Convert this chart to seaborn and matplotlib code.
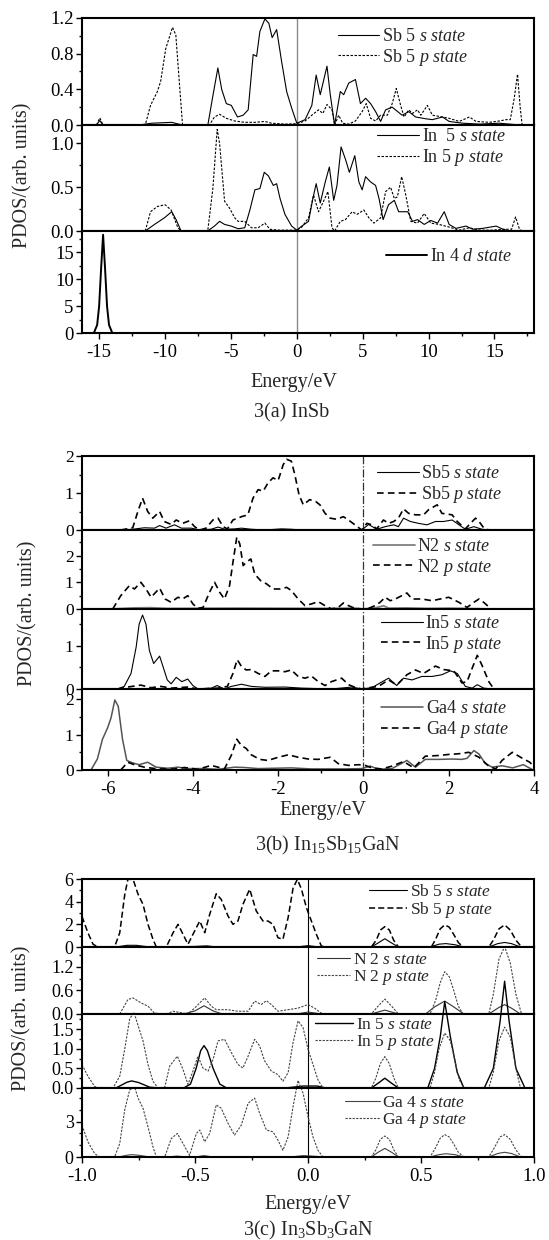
import matplotlib
matplotlib.use("Agg")
import matplotlib.pyplot as plt
import seaborn as sns
from matplotlib.ticker import MultipleLocator, FormatStrFormatter

sns.set_theme(style="ticks")
plt.rcParams["font.family"] = ["Liberation Serif", "DejaVu Serif"]
plt.rcParams["mathtext.fontset"] = "custom"
plt.rcParams["mathtext.rm"] = "Liberation Serif"
plt.rcParams["mathtext.it"] = "Liberation Serif:italic"
plt.rcParams["axes.unicode_minus"] = False

# ---------------- 3(a) InSb : (energy eV, PDOS) ----------------
a_sb5s = [(-16.2, 0), (-15.2, 0), (-14.95, 0.05), (-14.7, 0), (-12.0, 0), (-11.0, 0.02), (-9.5, 0.03), (-8.7, 0),
          (-6.75, 0), (-6.4, 0.3), (-5.99, 0.64), (-5.7, 0.4), (-5.35, 0.24), (-4.97, 0.22), (-4.5, 0.09), (-4.07, 0.11),
          (-3.69, 0.17), (-3.31, 0.79), (-3.05, 0.77), (-2.8, 1.05), (-2.42, 1.19), (-2.12, 1.14), (-1.87, 0.98),
          (-1.53, 1.07), (-1.15, 0.71), (-0.77, 0.375), (-0.39, 0.19), (0.0, 0.02), (0.63, 0.06), (1.14, 0.22),
          (1.47, 0.56), (1.78, 0.34), (2.29, 0.66), (2.54, 0.34), (2.87, 0.0), (3.3, 0.375), (3.56, 0.34), (3.94, 0.47),
          (4.45, 0.51), (4.83, 0.24), (5.22, 0.3), (5.6, 0.24), (5.98, 0.15), (6.36, 0.04), (6.74, 0.17), (7.24, 0.2),
          (7.99, 0.11), (8.5, 0.15), (9.02, 0.09), (9.78, 0.07), (10.29, 0.06), (11.06, 0.09), (11.56, 0.04),
          (12.59, 0.02), (13.86, 0.01), (15.38, 0.02), (16.15, 0.01), (17.0, 0)]
a_sb5p = [(-15.2, 0), (-14.95, 0.08), (-14.7, 0), (-11.5, 0), (-11.1, 0.22), (-10.58, 0.375), (-10.33, 0.49),
          (-9.94, 0.86), (-9.43, 1.095), (-9.18, 1.01), (-8.92, 0.49), (-8.67, 0), (-6.63, 0), (-6.25, 0.09),
          (-5.86, 0.12), (-5.35, 0.075), (-4.71, 0.045), (-3.95, 0.03), (-3.18, 0.03), (-2.42, 0.04), (-1.91, 0.02),
          (-0.9, 0.01), (0.0, 0.015), (0.63, 0.045), (1.14, 0.11), (1.65, 0.17), (1.98, 0.13), (2.29, 0.23),
          (2.67, 0.17), (2.87, 0), (3.18, 0.11), (3.48, 0.02), (3.94, 0.01), (4.45, 0.045), (4.96, 0.15), (5.27, 0.24),
          (5.6, 0.075), (5.98, 0.045), (6.36, 0.11), (6.87, 0.11), (7.24, 0.24), (7.55, 0.41), (7.88, 0.22),
          (8.14, 0.09), (8.5, 0.17), (8.78, 0.13), (9.16, 0.17), (9.41, 0.11), (9.91, 0.22), (10.29, 0.11),
          (11.06, 0.09), (11.56, 0.075), (12.33, 0.04), (13.1, 0.09), (13.6, 0.04), (14.6, 0.03), (15.38, 0.045),
          (15.89, 0.06), (16.2, 0.06), (16.5, 0.3), (16.75, 0.57), (16.95, 0.2), (17.1, 0)]
a_in5s = [(-11.5, 0), (-10.8, 0.075), (-10.05, 0.15), (-9.49, 0.22), (-9.16, 0.13), (-8.78, 0), (-6.76, 0),
          (-6.25, 0.056), (-5.86, 0.11), (-5.48, 0.075), (-4.97, 0.056), (-4.45, 0.026), (-3.95, 0.037), (-3.56, 0.24),
          (-3.18, 0.47), (-2.8, 0.485), (-2.47, 0.67), (-2.16, 0.63), (-1.78, 0.52), (-1.53, 0.54), (-1.27, 0.37),
          (-0.9, 0.19), (-0.39, 0.056), (0.0, 0.01), (0.38, 0.056), (0.89, 0.11), (1.22, 0.37), (1.47, 0.54),
          (1.78, 0.32), (2.16, 0.56), (2.47, 0.73), (2.8, 0.35), (3.05, 0.52), (3.36, 0.96), (3.69, 0.82), (3.99, 0.67),
          (4.4, 0.86), (4.71, 0.56), (4.96, 0.47), (5.22, 0.62), (5.6, 0.56), (5.98, 0.52), (6.24, 0.37), (6.55, 0.13),
          (6.96, 0.3), (7.4, 0.35), (7.73, 0.22), (8.42, 0.22), (8.78, 0.11), (9.16, 0.13), (9.67, 0.075),
          (10.17, 0.12), (10.68, 0.09), (11.19, 0.22), (11.56, 0.075), (12.07, 0.03), (12.84, 0.056), (13.35, 0.02),
          (14.1, 0.03), (15.13, 0.056), (15.64, 0.02), (16.15, 0.0)]
a_in5p = [(-11.5, 0), (-11.1, 0.22), (-10.58, 0.28), (-10.0, 0.3), (-9.54, 0.24), (-9.03, 0.04), (-8.78, 0),
          (-6.76, 0), (-6.37, 0.485), (-6.04, 1.16), (-5.86, 1.0), (-5.48, 0.34), (-5.1, 0.26), (-4.71, 0.15),
          (-4.45, 0.11), (-3.95, 0.11), (-3.44, 0.037), (-2.93, 0.037), (-2.42, 0.09), (-2.04, 0.02), (-1.4, 0.01),
          (0.0, 0.01), (0.38, 0.045), (0.89, 0.15), (1.27, 0.41), (1.65, 0.22), (2.03, 0.34), (2.36, 0.45),
          (2.67, 0.037), (2.87, 0), (3.3, 0.11), (3.69, 0.13), (4.2, 0.22), (4.58, 0.19), (5.09, 0.24), (5.47, 0.15),
          (5.85, 0.09), (6.36, 0.15), (6.74, 0.45), (7.12, 0.5), (7.4, 0.37), (7.63, 0.39), (7.96, 0.62), (8.27, 0.41),
          (8.65, 0.11), (9.16, 0.09), (9.67, 0.2), (10.17, 0.09), (10.8, 0.075), (11.56, 0.045), (12.33, 0.01),
          (13.1, 0.037), (13.86, 0.01), (14.88, 0.01), (15.64, 0.02), (16.3, 0.02), (16.6, 0.16), (16.9, 0.02),
          (17.1, 0)]
a_in4d = [(-15.4, 0), (-15.15, 1.5), (-15.0, 5.0), (-14.85, 12.0), (-14.7, 18.3), (-14.55, 12.0), (-14.4, 5.0),
          (-14.25, 1.5), (-14.0, 0)]

# ---------------- 3(b) In15Sb15GaN ----------------
b_sb5s = [(-5.69, 0), (-5.41, 0.02), (-5.14, 0.06), (-4.9, 0.05), (-4.78, 0.12), (-4.63, 0.05), (-4.43, 0.14),
          (-4.27, 0.05), (-4.04, 0.05), (-3.84, 0), (-3.57, 0.02), (-3.41, 0.08), (-3.25, 0.02), (-3.02, 0.03),
          (-2.86, 0.05), (-2.63, 0.02), (-2.31, 0), (-1.92, 0.03), (-1.69, 0.02), (-1.45, 0), (-0.04, 0), (0.12, 0.15),
          (0.31, 0.02), (0.51, 0.09), (0.71, 0.14), (0.82, 0.09), (0.94, 0.32), (1.1, 0.23), (1.29, 0.18), (1.49, 0.14),
          (1.69, 0.23), (1.88, 0.23), (2.08, 0.27), (2.24, 0.14), (2.39, 0.02), (2.59, 0.09), (2.78, 0.02), (2.94, 0)]
b_sb5p = [(-5.69, 0), (-5.41, 0.06), (-5.29, 0.5), (-5.18, 0.86), (-5.06, 0.5), (-4.94, 0.32), (-4.78, 0.5),
          (-4.67, 0.23), (-4.51, 0.15), (-4.39, 0.27), (-4.24, 0.18), (-4.08, 0.25), (-3.96, 0.09), (-3.84, 0),
          (-3.69, 0.05), (-3.53, 0.27), (-3.41, 0.32), (-3.29, 0.09), (-3.19, 0.03), (-3.06, 0.27), (-2.86, 0.36),
          (-2.71, 0.41), (-2.59, 0.86), (-2.47, 1.09), (-2.35, 1.05), (-2.24, 1.27), (-2.12, 1.41), (-2.0, 1.34),
          (-1.88, 1.77), (-1.8, 1.91), (-1.69, 1.86), (-1.61, 1.5), (-1.51, 0.95), (-1.41, 0.68), (-1.26, 0.82),
          (-1.12, 0.77), (-1.02, 0.68), (-0.9, 0.45), (-0.78, 0.32), (-0.63, 0.29), (-0.47, 0.36), (-0.35, 0.27),
          (-0.2, 0.14), (-0.04, 0), (0.08, 0.18), (0.2, 0.14), (0.31, 0.03), (0.47, 0.27), (0.59, 0.18), (0.71, 0.23),
          (0.82, 0.32), (0.94, 0.57), (1.06, 0.45), (1.22, 0.41), (1.41, 0.41), (1.53, 0.55), (1.73, 0.68),
          (1.84, 0.45), (1.96, 0.43), (2.08, 0.41), (2.2, 0.23), (2.39, 0.03), (2.51, 0.18), (2.63, 0.32),
          (2.71, 0.23), (2.82, 0.06), (2.94, 0)]
b_n2s = [(-5.9, 0), (-5.4, 0.04), (-5.0, 0.05), (-4.6, 0.02), (-3.0, 0.03), (-1.0, 0.02), (-0.2, 0.03), (0.0, 0.0),
         (0.3, 0.05), (0.47, 0.12), (0.6, 0.03), (1.0, 0.04), (1.5, 0.02), (2.0, 0.03), (3.0, 0.0)]
b_n2p = [(-5.88, 0), (-5.69, 0.5), (-5.49, 0.875), (-5.37, 0.75), (-5.22, 1.0), (-5.1, 0.75), (-4.98, 0.44),
         (-4.78, 0.78), (-4.65, 0.375), (-4.51, 0.25), (-4.35, 0.44), (-4.24, 0.375), (-4.12, 0.5), (-4.0, 0.19),
         (-3.88, 0.025), (-3.76, 0.06), (-3.61, 0.625), (-3.49, 1.0), (-3.37, 0.625), (-3.26, 0.375), (-3.14, 0.875),
         (-3.06, 1.75), (-2.97, 2.69), (-2.9, 2.44), (-2.82, 1.625), (-2.75, 1.75), (-2.64, 1.875), (-2.55, 1.31),
         (-2.41, 1.06), (-2.27, 0.94), (-2.12, 0.75), (-1.96, 0.75), (-1.8, 0.81), (-1.69, 0.69), (-1.53, 0.375),
         (-1.37, 0.125), (-1.22, 0.19), (-1.06, 0.275), (-0.9, 0.125), (-0.75, 0.0), (-0.59, 0.06), (-0.47, 0.225),
         (-0.35, 0.125), (-0.2, 0.025), (-0.04, 0.0), (0.12, 0.025), (0.27, 0.125), (0.39, 0.25), (0.51, 0.44),
         (0.63, 0.31), (0.75, 0.375), (1.02, 0.6), (1.14, 0.375), (1.37, 0.375), (1.61, 0.31), (1.8, 0.375),
         (2.0, 0.44), (2.24, 0.25), (2.43, 0.06), (2.59, 0.25), (2.71, 0.375), (2.82, 0.25), (2.98, 0.025)]
b_in5s = [(-5.77, 0), (-5.61, 0.06), (-5.45, 0.36), (-5.33, 0.97), (-5.26, 1.5), (-5.18, 1.71), (-5.1, 1.5),
          (-5.02, 0.89), (-4.92, 0.59), (-4.78, 0.76), (-4.71, 0.55), (-4.6, 0.21), (-4.51, 0.12), (-4.39, 0.27),
          (-4.26, 0.17), (-4.12, 0.23), (-4.0, 0.08), (-3.88, 0), (-3.57, 0.02), (-3.43, 0.08), (-3.26, 0),
          (-3.1, 0.06), (-2.86, 0.11), (-2.63, 0.06), (-2.31, 0.04), (-1.84, 0.045), (-1.45, 0.02), (-0.75, 0),
          (-0.27, 0.045), (-0.04, 0), (0.2, 0.03), (0.39, 0.14), (0.59, 0.25), (0.78, 0.08), (0.94, 0.25),
          (1.14, 0.21), (1.37, 0.29), (1.61, 0.29), (1.84, 0.33), (2.04, 0.42), (2.2, 0.36), (2.39, 0.06),
          (2.55, 0.02), (2.67, 0.1), (2.82, 0.02), (3.02, 0)]
b_in5p = [(-5.77, 0), (-5.53, 0.045), (-5.22, 0.09), (-4.98, 0.03), (-4.75, 0.06), (-4.51, 0.02), (-4.12, 0.045),
          (-3.88, 0), (-3.41, 0.02), (-3.19, 0.06), (-3.06, 0.36), (-2.96, 0.68), (-2.86, 0.52), (-2.75, 0.44),
          (-2.63, 0.45), (-2.47, 0.36), (-2.31, 0.29), (-2.16, 0.42), (-2.0, 0.42), (-1.84, 0.4), (-1.69, 0.44),
          (-1.53, 0.29), (-1.37, 0.25), (-1.22, 0.3), (-1.06, 0.17), (-0.9, 0.08), (-0.75, 0.17), (-0.51, 0.25),
          (-0.35, 0.1), (-0.2, 0.04), (-0.04, 0), (0.12, 0.03), (0.35, 0.06), (0.59, 0.21), (0.78, 0.09),
          (1.02, 0.33), (1.22, 0.44), (1.41, 0.36), (1.69, 0.53), (1.88, 0.45), (2.12, 0.42), (2.31, 0.14),
          (2.43, 0.17), (2.55, 0.48), (2.67, 0.78), (2.78, 0.55), (2.94, 0.17), (3.06, 0)]
b_ga4s = [(-6.39, 0), (-6.24, 0.31), (-6.12, 0.87), (-6.0, 1.19), (-5.92, 1.47), (-5.83, 1.98), (-5.75, 1.8),
          (-5.65, 0.87), (-5.55, 0.27), (-5.41, 0.2), (-5.26, 0.15), (-5.06, 0.22), (-4.86, 0.08), (-4.59, 0.05),
          (-4.35, 0.08), (-4.12, 0.04), (-3.73, 0.04), (-3.41, 0.02), (-3.02, 0.08), (-2.78, 0.07), (-2.47, 0.04),
          (-1.69, 0.06), (-1.22, 0.03), (-0.43, 0.03), (-0.04, 0.04), (0.16, 0.11), (0.35, 0.02), (0.67, 0.04),
          (1.02, 0.27), (1.22, 0.08), (1.45, 0.3), (1.77, 0.3), (2.08, 0.31), (2.31, 0.3), (2.43, 0.33), (2.59, 0.55),
          (2.71, 0.45), (2.86, 0.18), (3.02, 0.08), (3.25, 0.12), (3.5, 0.06), (3.75, 0.15), (3.95, 0.02)]
b_ga4p = [(-5.69, 0), (-5.53, 0.22), (-5.37, 0.15), (-5.14, 0.08), (-4.82, 0.03), (-4.43, 0.03), (-4.2, 0.07),
          (-3.88, 0.02), (-3.57, 0.13), (-3.41, 0.08), (-3.26, 0.03), (-3.1, 0.41), (-2.97, 0.87), (-2.86, 0.69),
          (-2.75, 0.61), (-2.63, 0.43), (-2.43, 0.3), (-2.24, 0.27), (-2.0, 0.36), (-1.76, 0.43), (-1.53, 0.36),
          (-1.29, 0.31), (-1.06, 0.3), (-0.78, 0.36), (-0.59, 0.18), (-0.35, 0.13), (-0.12, 0.15), (0.04, 0.13),
          (0.2, 0.06), (0.43, 0.03), (0.67, 0.11), (0.94, 0.24), (1.18, 0.06), (1.45, 0.39), (1.77, 0.41),
          (2.0, 0.44), (2.24, 0.46), (2.47, 0.5), (2.71, 0.36), (2.94, 0.11), (3.1, 0.03), (3.25, 0.27), (3.49, 0.5),
          (3.7, 0.35), (3.9, 0.22), (4.0, 0.1)]

# ---------------- 3(c) In3Sb3GaN ----------------
c_sb5s = [(-0.85, 0), (-0.8, 0.15), (-0.76, 0.15), (-0.7, 0), (-0.5, 0.05), (-0.45, 0.1), (-0.4, 0.0), (-0.05, 0),
          (0.0, 0.12), (0.05, 0), (0.28, 0), (0.31, 0.35), (0.34, 0.73), (0.37, 0.35), (0.4, 0), (0.54, 0),
          (0.58, 0.25), (0.61, 0.3), (0.65, 0.2), (0.69, 0), (0.8, 0), (0.84, 0.3), (0.87, 0.4), (0.9, 0.3), (0.94, 0)]
c_sb5p = [(-1.0, 2.7), (-0.974, 1.26), (-0.951, 0.24), (-0.929, 0), (-0.856, 0), (-0.833, 1.26), (-0.811, 4.6),
          (-0.797, 5.97), (-0.774, 5.97), (-0.752, 4.65), (-0.73, 3.76), (-0.708, 2.0), (-0.686, 0.68), (-0.671, 0),
          (-0.627, 0), (-0.597, 1.26), (-0.575, 2.0), (-0.553, 1.12), (-0.531, 0.24), (-0.509, 1.12), (-0.479, 2.29),
          (-0.457, 1.26), (-0.435, 2.88), (-0.406, 4.7), (-0.384, 4.2), (-0.354, 2.74), (-0.332, 2.0), (-0.31, 2.29),
          (-0.288, 3.76), (-0.258, 5.1), (-0.229, 3.18), (-0.199, 2.29), (-0.177, 2.29), (-0.155, 2.0),
          (-0.133, 0.82), (-0.111, 0.68), (-0.088, 2.59), (-0.066, 5.2), (-0.047, 5.97), (-0.029, 5.1),
          (-0.007, 3.47), (0.015, 2.29), (0.037, 1.12), (0.059, 0.09), (0.074, 0), (0.28, 0), (0.302, 0.6),
          (0.321, 1.5), (0.34, 1.8), (0.36, 1.5), (0.379, 0.6), (0.4, 0), (0.546, 0), (0.565, 0.7), (0.585, 1.6),
          (0.605, 1.95), (0.625, 1.75), (0.645, 1.1), (0.665, 0.4), (0.686, 0), (0.8, 0), (0.82, 0.6), (0.845, 1.6),
          (0.87, 1.95), (0.895, 1.5), (0.92, 0.6), (0.945, 0)]
c_n2s = [(-0.55, 0), (-0.5, 0.08), (-0.46, 0.21), (-0.42, 0.08), (-0.38, 0), (-0.05, 0), (0.0, 0.05), (0.06, 0),
         (0.28, 0), (0.31, 0.05), (0.34, 0.1), (0.37, 0.05), (0.4, 0), (0.52, 0), (0.56, 0.18), (0.605, 0.33),
         (0.645, 0.18), (0.69, 0), (0.8, 0), (0.84, 0.15), (0.87, 0.24), (0.9, 0.15), (0.94, 0)]
c_n2p = [(-0.833, 0), (-0.797, 0.37), (-0.774, 0.41), (-0.738, 0.28), (-0.708, 0.2), (-0.679, 0.02), (-0.627, 0),
         (-0.597, 0.07), (-0.568, 0.04), (-0.531, 0), (-0.502, 0.15), (-0.457, 0.41), (-0.428, 0.2), (-0.406, 0.11),
         (-0.354, 0.11), (-0.31, 0.07), (-0.265, 0.07), (-0.236, 0.33), (-0.207, 0.24), (-0.184, 0.34),
         (-0.162, 0.24), (-0.133, 0.07), (-0.088, 0.11), (-0.044, 0.15), (0.0, 0.24), (0.029, 0.15), (0.059, 0.02),
         (0.074, 0), (0.28, 0), (0.31, 0.2), (0.34, 0.38), (0.37, 0.2), (0.4, 0), (0.54, 0), (0.565, 0.35),
         (0.585, 0.8), (0.605, 1.08), (0.625, 0.95), (0.645, 0.6), (0.665, 0.2), (0.686, 0), (0.8, 0), (0.82, 0.5),
         (0.845, 1.4), (0.87, 1.72), (0.895, 1.3), (0.92, 0.5), (0.945, 0)]
c_in5s = [(-0.85, 0), (-0.8, 0.15), (-0.78, 0.18), (-0.75, 0.14), (-0.7, 0.02), (-0.66, 0), (-0.55, 0),
          (-0.52, 0.1), (-0.495, 0.5), (-0.475, 0.95), (-0.46, 1.08), (-0.445, 0.95), (-0.42, 0.5), (-0.39, 0.1),
          (-0.36, 0), (-0.1, 0), (-0.02, 0.05), (0.04, 0.05), (0.08, 0), (0.28, 0), (0.31, 0.12), (0.34, 0.25),
          (0.37, 0.12), (0.4, 0), (0.53, 0), (0.56, 0.5), (0.585, 1.3), (0.605, 2.2), (0.63, 1.3), (0.66, 0.4),
          (0.69, 0), (0.78, 0), (0.82, 0.5), (0.85, 1.7), (0.87, 2.72), (0.89, 1.7), (0.92, 0.5), (0.96, 0)]
c_in5p = [(-1.0, 0.6), (-0.974, 0.3), (-0.944, 0.04), (-0.929, 0), (-0.863, 0), (-0.833, 0.3), (-0.811, 0.99),
          (-0.789, 1.76), (-0.77, 1.93), (-0.752, 1.59), (-0.73, 1.2), (-0.708, 0.6), (-0.686, 0.17), (-0.664, 0),
          (-0.634, 0.02), (-0.612, 0.56), (-0.578, 0.81), (-0.553, 0.47), (-0.531, 0.09), (-0.509, 0.43),
          (-0.487, 0.81), (-0.465, 0.51), (-0.442, 0.43), (-0.42, 0.73), (-0.398, 1.2), (-0.369, 1.24),
          (-0.339, 0.9), (-0.31, 0.6), (-0.288, 0.51), (-0.265, 0.81), (-0.236, 1.24), (-0.214, 1.07),
          (-0.192, 0.69), (-0.162, 0.43), (-0.133, 0.34), (-0.111, 0.17), (-0.088, 0.39), (-0.066, 1.16),
          (-0.044, 1.71), (-0.022, 1.54), (0.0, 0.99), (0.022, 0.6), (0.044, 0.21), (0.066, 0), (0.28, 0),
          (0.3, 0.25), (0.32, 0.62), (0.34, 0.8), (0.36, 0.62), (0.38, 0.25), (0.4, 0), (0.54, 0), (0.56, 0.4),
          (0.58, 1.0), (0.605, 1.4), (0.63, 1.2), (0.65, 0.7), (0.67, 0.2), (0.69, 0), (0.8, 0), (0.82, 0.4),
          (0.845, 1.2), (0.87, 1.55), (0.895, 1.3), (0.92, 0.5), (0.94, 0)]
c_ga4s = [(-0.84, 0), (-0.8, 0.15), (-0.78, 0.2), (-0.75, 0.15), (-0.7, 0), (-0.62, 0), (-0.58, 0.08), (-0.54, 0),
          (-0.5, 0), (-0.46, 0.12), (-0.42, 0), (-0.08, 0), (-0.02, 0.12), (0.04, 0.05), (0.07, 0), (0.28, 0),
          (0.31, 0.4), (0.34, 0.73), (0.37, 0.4), (0.4, 0), (0.54, 0), (0.58, 0.2), (0.61, 0.28), (0.65, 0.2),
          (0.69, 0), (0.8, 0), (0.84, 0.3), (0.87, 0.4), (0.9, 0.3), (0.94, 0)]
c_ga4p = [(-1.0, 2.7), (-0.974, 1.29), (-0.944, 0.29), (-0.922, 0), (-0.856, 0), (-0.833, 1.14), (-0.811, 4.0),
          (-0.789, 5.7), (-0.767, 5.94), (-0.752, 5.0), (-0.73, 4.14), (-0.708, 2.57), (-0.686, 0.86), (-0.671, 0),
          (-0.634, 0), (-0.605, 1.57), (-0.578, 2.0), (-0.553, 1.14), (-0.524, 0.14), (-0.494, 2.0), (-0.479, 2.29),
          (-0.457, 1.29), (-0.435, 2.0), (-0.406, 4.43), (-0.384, 4.14), (-0.354, 2.86), (-0.325, 1.86),
          (-0.295, 2.71), (-0.265, 4.57), (-0.236, 5.0), (-0.214, 3.71), (-0.184, 2.29), (-0.155, 2.14),
          (-0.133, 1.43), (-0.111, 0.57), (-0.088, 1.71), (-0.066, 4.29), (-0.044, 6.5), (-0.022, 5.43),
          (0.0, 3.43), (0.022, 1.71), (0.044, 0.57), (0.066, 0), (0.28, 0), (0.3, 0.6), (0.32, 1.5), (0.34, 1.78),
          (0.36, 1.5), (0.38, 0.6), (0.4, 0), (0.54, 0), (0.565, 0.8), (0.585, 1.6), (0.605, 1.9), (0.625, 1.7),
          (0.645, 1.1), (0.665, 0.4), (0.69, 0), (0.8, 0), (0.825, 0.8), (0.85, 1.7), (0.87, 1.9), (0.895, 1.5),
          (0.92, 0.6), (0.945, 0)]

W, H = 549, 1240
LEFT, RIGHT = 82, 534

fig = plt.figure(figsize=(W / 100, H / 100), dpi=100)


def make_ax(ytop, ybot):
    return fig.add_axes([LEFT / W, 1 - ybot / H, (RIGHT - LEFT) / W, (ybot - ytop) / H])


def style_ax(ax, xlim, ylim, ymaj, ymin, yfmt, xmaj, xmin, xfmt, show_x, ylab=13.5):
    ax.set_xlim(xlim)
    ax.set_ylim(ylim)
    ax.xaxis.set_major_locator(MultipleLocator(xmaj))
    ax.xaxis.set_minor_locator(MultipleLocator(xmin))
    ax.yaxis.set_major_locator(MultipleLocator(ymaj))
    ax.yaxis.set_minor_locator(MultipleLocator(ymin))
    ax.yaxis.set_major_formatter(FormatStrFormatter(yfmt))
    ax.xaxis.set_major_formatter(FormatStrFormatter(xfmt))
    for s in ax.spines.values():
        s.set_linewidth(1.5)
        s.set_color("black")
    ax.tick_params(which="both", direction="out", top=False, right=False, colors="black", width=1.0)
    ax.tick_params(which="major", length=4, pad=2)
    ax.tick_params(which="minor", length=2.5)
    ax.tick_params(axis="y", labelsize=ylab)
    ax.tick_params(axis="x", labelsize=13.5, pad=4)
    if not show_x:
        ax.tick_params(axis="x", which="both", bottom=False, labelbottom=False)
    ax.set_xlabel("")
    ax.set_ylabel("")


def curve(ax, pts, label, color="black", lw=0.8, ls="-", clip=True):
    e = [p[0] for p in pts]
    v = [p[1] for p in pts]
    sns.lineplot(x=e, y=v, ax=ax, color=color, lw=lw, linestyle=ls, label=label,
                 estimator=None, sort=False, clip_on=clip)


def leg(ax, xa, ya, fs=13, hl=2.3, ls=0.1):
    ax.legend(loc="upper right", bbox_to_anchor=(xa, ya), frameon=False, fontsize=fs,
              handlelength=hl, handletextpad=0.15, labelspacing=ls, borderaxespad=0, borderpad=0)


# ---------- panel (a) ----------
xa_lim = (-16.3, 18.0)
ax1 = make_ax(18, 125)
ax2 = make_ax(125, 231)
ax3 = make_ax(231, 333)
short = (0, (2.2, 1.4))
for ax in (ax1, ax2, ax3):
    ax.axvline(0, color="#8a8a8a", lw=1.0, zorder=1)
curve(ax1, a_sb5s, r"Sb 5 $\mathit{s\ state}$")
curve(ax1, a_sb5p, r"Sb 5 $\mathit{p\ state}$", ls=short)
curve(ax2, a_in5s, r"In  5 $\mathit{s\ state}$")
curve(ax2, a_in5p, r"In 5 $\mathit{p\ state}$", ls=short)
curve(ax3, a_in4d, r"In 4 $\mathit{d\ state}$", lw=1.4)
style_ax(ax1, xa_lim, (0, 1.2), 0.4, 0.2, "%.1f", 5, 2.5, "%d", False)
style_ax(ax2, xa_lim, (0, 1.21), 0.5, 0.25, "%.1f", 5, 2.5, "%d", False)
style_ax(ax3, xa_lim, (0, 19), 5, 2.5, "%d", 5, 2.5, "%d", True)
leg(ax1, 0.854, 0.907)
leg(ax2, 0.938, 0.97)
leg(ax3, 0.951, 0.833)

# ---------- panel (b) ----------
xb_lim = (-6.6, 4.0)
bx1 = make_ax(456, 530)
bx2 = make_ax(530, 609)
bx3 = make_ax(609, 689)
bx4 = make_ax(689, 770)
med = (0, (4, 2.5))
for ax in (bx1, bx2, bx3, bx4):
    ax.axvline(0, color="#333333", lw=0.9, ls="-.", zorder=1)
curve(bx1, b_sb5s, r"Sb5 $\mathit{s\ state}$")
curve(bx1, b_sb5p, r"Sb5 $\mathit{p\ state}$", lw=1.2, ls=med)
curve(bx2, b_n2s, r"N2 $\mathit{s\ state}$", color="#808080", lw=1.3)
curve(bx2, b_n2p, r"N2 $\mathit{p\ state}$", lw=1.2, ls=med)
curve(bx3, b_in5s, r"In5 $\mathit{s\ state}$")
curve(bx3, b_in5p, r"In5 $\mathit{p\ state}$", lw=1.2, ls=med)
curve(bx4, b_ga4s, r"Ga4 $\mathit{s\ state}$", color="#555555", lw=1.1)
curve(bx4, b_ga4p, r"Ga4 $\mathit{p\ state}$", lw=1.2, ls=med)
style_ax(bx1, xb_lim, (0, 2.0), 1, 0.5, "%d", 2, 1, "%d", False, ylab=12.5)
style_ax(bx2, xb_lim, (0, 2.96), 1, 0.5, "%d", 2, 1, "%d", False, ylab=12.5)
style_ax(bx3, xb_lim, (0, 1.85), 1, 0.5, "%d", 2, 1, "%d", False, ylab=12.5)
style_ax(bx4, xb_lim, (0, 2.29), 1, 0.5, "%d", 2, 1, "%d", True, ylab=12.5)
leg(bx1, 0.931, 0.878)
leg(bx2, 0.909, 0.899)
leg(bx3, 0.931, 0.925)
leg(bx4, 0.945, 0.864)

# ---------- panel (c) ----------
xc_lim = (-1.0, 1.0)
cx1 = make_ax(879, 947)
cx2 = make_ax(947, 1014)
cx3 = make_ax(1014, 1088)
cx4 = make_ax(1088, 1157)
fine = (0, (2, 1.2))
for ax in (cx1, cx2, cx3, cx4):
    ax.axvline(0, color="black", lw=0.8, zorder=1)
curve(cx1, c_sb5s, r"Sb 5 $\mathit{s\ state}$", clip=False)
curve(cx1, c_sb5p, r"Sb 5 $\mathit{p\ state}$", lw=1.1, ls=(0, (4, 2)), clip=False)
curve(cx2, c_n2s, r"N 2 $\mathit{s\ state}$", color="#333333", clip=False)
curve(cx2, c_n2p, r"N 2 $\mathit{p\ state}$", color="#444444", ls=fine, clip=False)
curve(cx3, c_in5s, r"In 5 $\mathit{s\ state}$", lw=1.0, clip=False)
curve(cx3, c_in5p, r"In 5 $\mathit{p\ state}$", color="#444444", ls=fine, clip=False)
curve(cx4, c_ga4s, r"Ga 4 $\mathit{s\ state}$", color="#444444", clip=False)
curve(cx4, c_ga4p, r"Ga 4 $\mathit{p\ state}$", color="#444444", ls=fine, clip=False)
style_ax(cx1, xc_lim, (0, 6), 2, 1, "%d", 0.5, 0.25, "%.1f", False, ylab=13)
style_ax(cx2, xc_lim, (0, 1.71), 0.6, 0.3, "%.1f", 0.5, 0.25, "%.1f", False, ylab=13)
style_ax(cx3, xc_lim, (0, 1.885), 0.5, 0.25, "%.1f", 0.5, 0.25, "%.1f", False, ylab=13)
style_ax(cx4, xc_lim, (0, 5.86), 3, 1, "%d", 0.5, 0.25, "%.1f", True, ylab=13)
leg(cx1, 0.909, 0.926, fs=12.5, hl=2.2, ls=0.0)
leg(cx2, 0.770, 0.925, fs=12.5, hl=1.9, ls=0.0)
leg(cx3, 0.781, 0.96, fs=12.5, hl=2.2, ls=0.0)
leg(cx4, 0.852, 0.90, fs=12.5, hl=2.0, ls=0.0)

# ---------- labels ----------
lab = 14.5
fig.text(23 / W, 1 - 175 / H, "PDOS/(arb. units)", rotation=90, ha="center", va="center", fontsize=lab)
fig.text(28 / W, 1 - 613 / H, "PDOS/(arb. units)", rotation=90, ha="center", va="center", fontsize=lab)
fig.text(22 / W, 1 - 1018 / H, "PDOS/(arb. units)", rotation=90, ha="center", va="center", fontsize=lab)
fig.text(294 / W, 1 - 383 / H, "Energy/eV", ha="center", va="center", fontsize=lab)
fig.text(323 / W, 1 - 810 / H, "Energy/eV", ha="center", va="center", fontsize=lab)
fig.text(308 / W, 1 - 1205 / H, "Energy/eV", ha="center", va="center", fontsize=lab)
fig.text(292 / W, 1 - 413 / H, "3(a) InSb", ha="center", va="center", fontsize=lab)
fig.text(328 / W, 1 - 845 / H, r"3(b) In$_{\mathrm{15}}$Sb$_{\mathrm{15}}$GaN", ha="center", va="center", fontsize=lab)
fig.text(308 / W, 1 - 1230 / H, r"3(c) In$_{\mathrm{3}}$Sb$_{\mathrm{3}}$GaN", ha="center", va="center", fontsize=lab)

fig.savefig("out.png", dpi=100)
